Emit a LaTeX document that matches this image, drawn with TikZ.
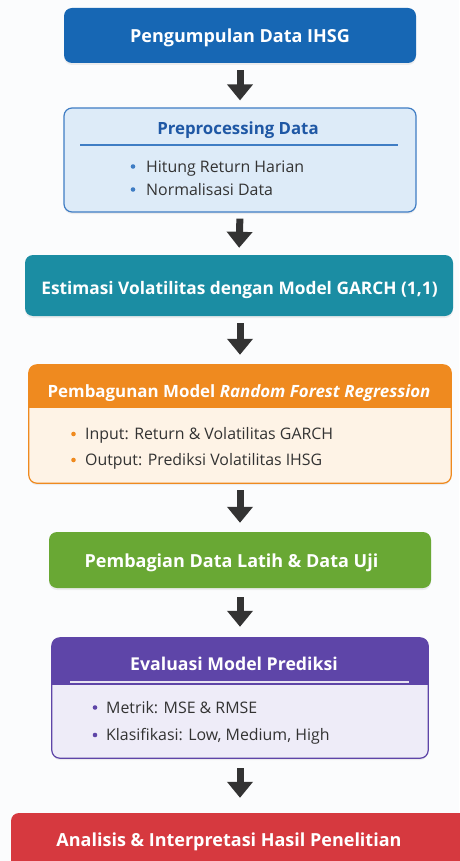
\documentclass[tikz,border=0pt]{standalone}
\usepackage{fontspec}
\setmainfont{Open Sans}
\usetikzlibrary{arrows.meta,shadows}
\definecolor{bgc}{HTML}{FBFCFD}
\definecolor{cblue}{HTML}{1767B4}
\definecolor{lblue}{HTML}{DDEBF8}
\definecolor{bblue}{HTML}{3F7DC4}
\definecolor{tblue}{HTML}{1F58A5}
\definecolor{cteal}{HTML}{1B8DA3}
\definecolor{corange}{HTML}{EF8A1F}
\definecolor{lorange}{HTML}{FEF3E6}
\definecolor{cgreen}{HTML}{69A834}
\definecolor{cpurple}{HTML}{5E45A8}
\definecolor{lpurple}{HTML}{EEECF8}
\definecolor{cred}{HTML}{D6393F}
\definecolor{carrow}{HTML}{333333}
\definecolor{ctext}{HTML}{333333}
\tikzset{
  box/.style={rounded corners=8pt, inner sep=0pt, drop shadow={opacity=0.12, shadow xshift=0pt, shadow yshift=-2pt}},
  titletext/.style={font=\fontsize{18}{21}\selectfont\bfseries, text=white, inner sep=0pt, anchor=base},
  bodytext/.style={font=\fontsize{15.9}{18}\selectfont, text=ctext, inner sep=0pt, anchor=base west},
  flowarrow/.style={draw=carrow, line width=7pt, -{Triangle[width=25pt,length=16pt]}}
}
\begin{document}
\begin{tikzpicture}[x=1pt,y=-1pt]
\fill[bgc] (0,0) rectangle (459,861);
\useasboundingbox (0,0) rectangle (459,861);

% Box 1
\node[box, fill=cblue, minimum width=352pt, minimum height=55pt] (b1) at (240,35.5) {};
\node[titletext] (t1) at (240,43) {Pengumpulan Data IHSG};

% Box 2
\node[box, fill=lblue, draw=bblue, line width=1.2pt, minimum width=352pt, minimum height=104pt] (b2) at (240,160) {};
\node[titletext, text=tblue, font=\fontsize{16.8}{20}\selectfont\bfseries] (t2) at (238,135) {Preprocessing Data};
\draw[bblue, line width=1.3pt] (80,145) -- (398,145);
\fill[bblue] (133,166.5) circle (2.3);
\fill[bblue] (133,189.5) circle (2.3);
\node[bodytext] (p1) at (146,172.5) {Hitung Return Harian};
\node[bodytext] (p2) at (146,195) {Normalisasi Data};

% Box 3
\node[box, fill=cteal, minimum width=428pt, minimum height=61pt] (b3) at (239,285.5) {};
\node[titletext, font=\fontsize{17.3}{20}\selectfont\bfseries] (t3) at (239.5,294) {Estimasi Volatilitas dengan Model GARCH (1,1)};

% Box 4
\node[box, fill=lorange, minimum width=422pt, minimum height=118pt] (b4) at (240,424) {};
\begin{scope}
\clip[rounded corners=8pt] (b4.south west) rectangle (b4.north east);
\fill[corange] (b4.north west) rectangle (451,408);
\end{scope}
\draw[corange, line width=1.2pt, rounded corners=8pt] (b4.south west) rectangle (b4.north east);
\node[titletext, font=\fontsize{16.9}{20}\selectfont\bfseries] (t4) at (239,397) {Pembagunan Model \textit{Random Forest Regression}};
\fill[corange] (73.5,434) circle (2.3);
\fill[corange] (73.5,460) circle (2.3);
\node[bodytext] (r1) at (85,439) {Input: Return \& Volatilitas GARCH};
\node[bodytext] (r2) at (85,465) {Output: Prediksi Volatilitas IHSG};

% Box 5
\node[box, fill=cgreen, minimum width=382pt, minimum height=56pt] (b5) at (240,560) {};
\node[titletext] (t5) at (231.5,567.5) {Pembagian Data Latih \& Data Uji};

% Box 6
\node[box, fill=lpurple, minimum width=376pt, minimum height=120pt] (b6) at (240,698) {};
\begin{scope}
\clip[rounded corners=8pt] (b6.south west) rectangle (b6.north east);
\fill[cpurple] (b6.north west) rectangle (428,685);
\end{scope}
\draw[cpurple, line width=1.2pt, rounded corners=8pt] (b6.south west) rectangle (b6.north east);
\draw[white!85!cpurple, line width=1.3pt] (70,682) -- (409,682);
\node[titletext, font=\fontsize{17.7}{20}\selectfont\bfseries] (t6) at (234,670) {Evaluasi Model Prediksi};
\fill[cpurple] (95,707.5) circle (2.3);
\fill[cpurple] (95,735) circle (2.3);
\node[bodytext] (e1) at (106,713) {Metrik: MSE \& RMSE};
\node[bodytext] (e2) at (106,740.5) {Klasifikasi: Low, Medium, High};

% Box 7
\node[box, fill=cred, minimum width=464pt, minimum height=58pt] (b7) at (243,842) {};
\node[titletext] (t7) at (229,846.5) {Analisis \& Interpretasi Hasil Penelitian};

% Arrows
\draw[flowarrow, shorten <=7pt, shorten >=7pt] (b1.south) -- (b2.north);
\draw[flowarrow, shorten <=6pt, shorten >=7pt] (b2.south) -- (b3.north);
\draw[flowarrow, shorten <=7pt, shorten >=10pt] (b3.south -| b1.south) -- (b4.north);
\draw[flowarrow, shorten <=7pt, shorten >=9pt] (b4.south) -- (b5.north);
\draw[flowarrow, shorten <=9pt, shorten >=11pt] (b5.south) -- (b6.north);
\draw[flowarrow, shorten <=10pt, shorten >=15pt] (b6.south) -- (b7.north -| b6.south);
\end{tikzpicture}
\end{document}
